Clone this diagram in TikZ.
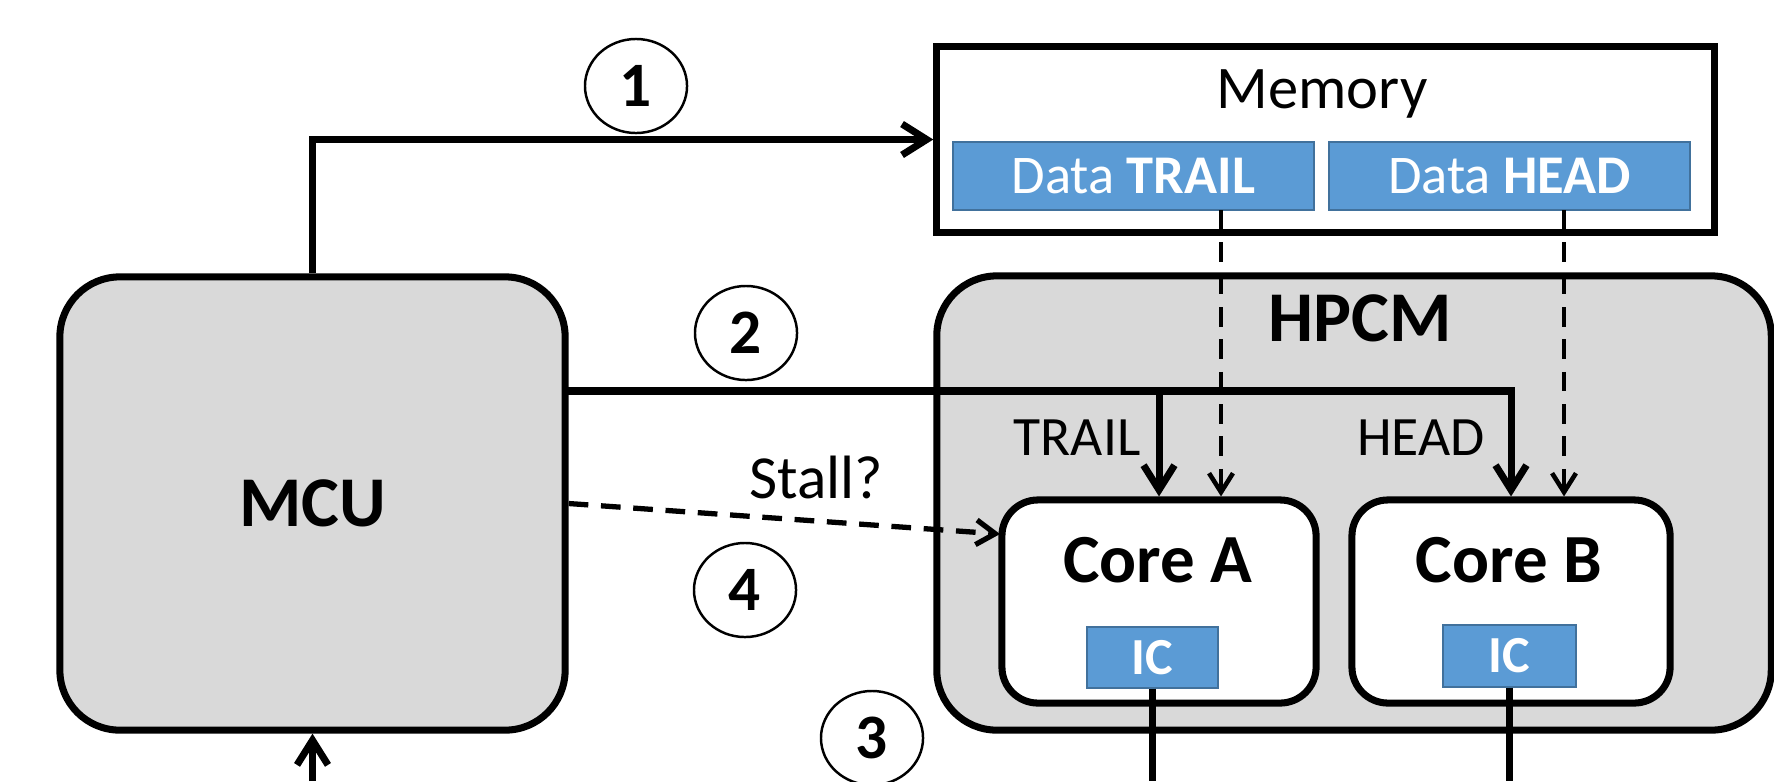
\documentclass[tikz,border=0pt]{standalone}
\usepackage{fontspec}
\setmainfont{Carlito}
\usetikzlibrary{arrows.meta,shapes.geometric,calc}
\definecolor{boxgray}{HTML}{D9D9D9}
\definecolor{icblue}{HTML}{5B9BD5}
\definecolor{icedge}{HTML}{41719C}
\begin{document}
\begin{tikzpicture}[x=0.01cm,y=-0.01cm,
  bigbox/.style={draw=black,line width=2pt,fill=boxgray,rounded corners=0.6cm,inner sep=0pt},
  corebox/.style={draw=black,line width=2pt,fill=white,rounded corners=0.36cm,inner sep=0pt},
  membox/.style={draw=black,line width=2pt,fill=white,inner sep=0pt},
  bluebox/.style={draw=icedge,line width=0.4pt,fill=icblue,text=white,inner sep=0pt},
  numcirc/.style={ellipse,draw=black,line width=0.7pt,minimum width=1.02cm,minimum height=0.94cm,inner sep=0pt,font=\fontsize{18}{20}\selectfont\bfseries},
  txt/.style={inner sep=0pt,anchor=base},
  thickline/.style={line width=2pt},
  thickarrow/.style={line width=2pt,-{Straight Barb[length=7pt,width=8.8pt]}},
  dasharrow/.style={line width=1.3pt,dash pattern=on 5.6pt off 3.6pt,-{Straight Barb[length=5.4pt,width=6.8pt]}},
  stallarrow/.style={line width=1.5pt,dash pattern=on 5.6pt off 3.6pt,-{Straight Barb[length=5.4pt,width=7pt]}}
]
\useasboundingbox (0,0) rectangle (1774,781);

% main boxes
\node[bigbox,minimum width=5.05cm,minimum height=4.53cm,font=\fontsize{20.3}{24}\selectfont\bfseries] (mcu) at (312.5,503.5) {MCU};
\node[bigbox,minimum width=8.34cm,minimum height=4.54cm] (hpcm) at (1354,503) {};
\node[txt,font=\fontsize{20.3}{24}\selectfont\bfseries] (hpcmtxt) at (1360,341) {HPCM};

\node[membox,minimum width=7.77cm,minimum height=1.85cm] (mem) at (1325.5,139.5) {};
\node[txt,font=\fontsize{17.2}{20}\selectfont] (memtxt) at (1322,108) {Memory};
\node[bluebox,minimum width=3.61cm,minimum height=0.68cm,font=\fontsize{15.5}{18}\selectfont] (dtrail) at (1133.5,176) {Data \textbf{TRAIL}};
\node[bluebox,minimum width=3.61cm,minimum height=0.68cm,font=\fontsize{15.5}{18}\selectfont] (dhead) at (1509.5,176) {Data \textbf{HEAD}};

% cores
\node[corebox,minimum width=3.14cm,minimum height=2.03cm] (corea) at (1159,601.5) {};
\node[corebox,minimum width=3.18cm,minimum height=2.03cm] (coreb) at (1511,601.5) {};
\node[txt,font=\fontsize{19.6}{22}\selectfont\bfseries] (coreatxt) at (1158,582) {Core A};
\node[txt,font=\fontsize{19.6}{22}\selectfont\bfseries] (corebtxt) at (1509,582) {Core B};
\node[bluebox,minimum width=1.31cm,minimum height=0.61cm,font=\fontsize{14.8}{17}\selectfont\bfseries] (ica) at (1152.5,657.5) {IC};
\node[bluebox,minimum width=1.33cm,minimum height=0.62cm,font=\fontsize{14.8}{17}\selectfont\bfseries] (icb) at (1509.5,656) {IC};

% labels
\node[txt,font=\fontsize{15.8}{19}\selectfont] (ltrail) at (1077,455) {TRAIL};
\node[txt,font=\fontsize{15.8}{19}\selectfont] (lhead) at (1421,455) {HEAD};
\node[txt,font=\fontsize{17.4}{20}\selectfont] (lstall) at (816,498) {Stall?};

% numbered circles
\node[numcirc] (c1) at (636,86) {1};
\node[numcirc] (c2) at (746,333) {2};
\node[numcirc] (c3) at (872,738) {3};
\node[numcirc] (c4) at (745,590) {4};

% helper coordinates
\coordinate (m2) at (565,391);
\coordinate (dt) at (1221,210);
\coordinate (dh) at (1564,210);
\coordinate (stalltip) at (1000,534);
\coordinate (botmcu) at (312.5,781);
\coordinate (bottom) at (0,781);

% connectors
\draw[thickarrow] (mcu.north) |- (mem.west);
\draw[thickarrow] (m2) -| (coreb.north);
\draw[thickarrow] (m2 -| corea.north) -- (corea.north);
\draw[dasharrow] (dt) -- (dt |- corea.north);
\draw[dasharrow] (dh) -- (dh |- coreb.north);
\draw[stallarrow] (mcu.east) -- (stalltip);
\draw[thickarrow] (botmcu) -- (mcu.south);
\draw[thickline] (ica.south) -- (ica.south |- bottom);
\draw[thickline] (icb.south) -- (icb.south |- bottom);
\end{tikzpicture}
\end{document}
